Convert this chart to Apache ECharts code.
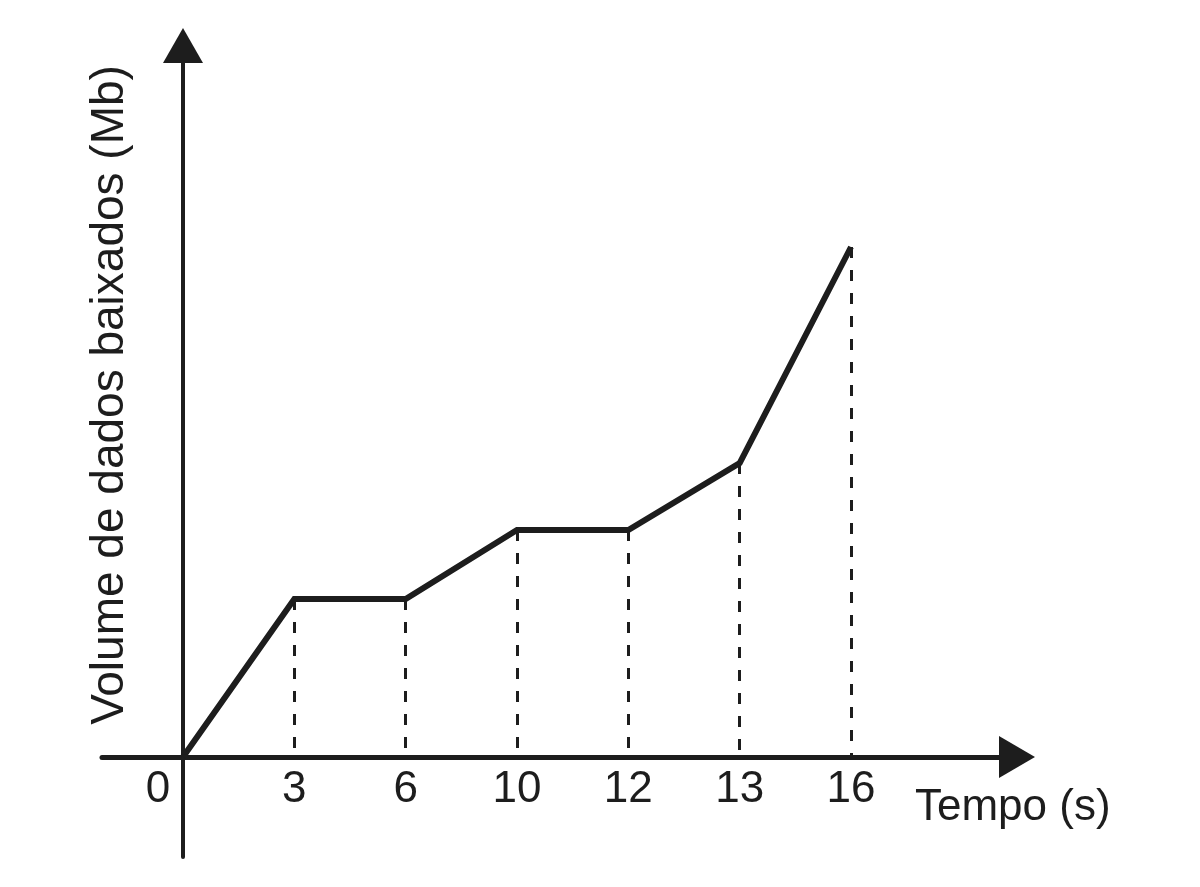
<!DOCTYPE html>
<html>
<head>
<meta charset="utf-8">
<script src="https://cdn.jsdelivr.net/npm/echarts@6/dist/echarts.min.js"></script>
<style>
html,body{margin:0;padding:0;background:#fff;}
#chart{width:1200px;height:887px;}
</style>
</head>
<body>
<div id="chart"></div>
<script>
// Tick labels (tempo, s) – the chart places them at equal spacing
var tempoLabels = ['0', '3', '6', '10', '12', '13', '16'];
// Volume de dados baixados (arbitrary units)
var volume = [0, 15.8, 15.8, 22.7, 22.7, 29.4, 51.0];
var xAxisName = 'Tempo (s)';
var yAxisName = 'Volume de dados baixados (Mb)';

var ink = '#1d1d1d';
var font = "'Liberation Sans', Arial, sans-serif";

var lineData = volume.map(function (v, i) { return [i, v]; });
var dropLines = [];
for (var i = 1; i < volume.length; i++) {
  dropLines.push([{ coord: [i, volume[i]] }, { coord: [i, 0] }]);
}
var tickIdx = tempoLabels.map(function (_, i) { return i; });

var X_MIN = -0.7275, X_MAX = 7.491, Y_MIN = -10, Y_MAX = 71.15;

var chart = echarts.init(document.getElementById('chart'), null, { renderer: 'canvas' });
chart.setOption({
  backgroundColor: '#ffffff',
  animation: false,
  grid: { left: 102, right: 183, top: 45.5, bottom: 30, containLabel: false, outerBoundsMode: 'none' },
  xAxis: [{
    type: 'value',
    min: X_MIN,
    max: X_MAX,
    axisLine: {
      show: true, onZero: true,
      symbol: ['none', 'triangle'], symbolSize: [42, 36],
      lineStyle: { color: ink, width: 5 }
    },
    axisTick: { show: false },
    splitLine: { show: false },
    axisLabel: { show: false },
    name: xAxisName,
    nameLocation: 'end',
    nameGap: -102,
    nameTextStyle: {
      color: ink, fontSize: 44, fontFamily: font,
      align: 'left', verticalAlign: 'top', padding: [29, 0, 0, 0]
    }
  }, {
    type: 'value',
    position: 'bottom',
    offset: -100,
    min: X_MIN,
    max: X_MAX,
    axisLine: { show: false, onZero: false },
    axisTick: { show: false },
    splitLine: { show: false },
    axisLabel: {
      show: true,
      customValues: tickIdx,
      margin: 11,
      color: ink,
      fontSize: 44,
      fontFamily: font,
      formatter: function (v) {
        var s = tempoLabels[Math.round(v)];
        if (s === undefined) return '';
        return Math.round(v) === 0 ? '{z|' + s + '}' : s;
      },
      rich: { z: { fontSize: 44, fontFamily: font, color: ink, padding: [0, 50, 0, 0] } }
    }
  }],
  yAxis: {
    type: 'value',
    min: Y_MIN,
    max: Y_MAX,
    axisLine: {
      show: true, onZero: true,
      symbol: ['none', 'triangle'], symbolSize: [40, 35],
      lineStyle: { color: ink, width: 4 }
    },
    axisTick: { show: false },
    splitLine: { show: false },
    axisLabel: { show: false }
  },
  graphic: [{
    type: 'text',
    x: 110,
    y: 395,
    rotation: Math.PI / 2,
    silent: true,
    style: {
      text: yAxisName,
      fill: ink,
      font: '46px ' + font,
      textAlign: 'center',
      textVerticalAlign: 'middle'
    }
  }],
  series: [{
    type: 'line',
    xAxisIndex: 0,
    data: lineData,
    showSymbol: false,
    symbol: 'none',
    lineStyle: { color: ink, width: 6, join: 'miter' },
    z: 5,
    markLine: {
      silent: true,
      symbol: ['none', 'none'],
      label: { show: false },
      lineStyle: { color: ink, width: 3, type: [11, 12] },
      emphasis: { disabled: true },
      data: dropLines
    }
  }]
});
</script>
</body>
</html>
